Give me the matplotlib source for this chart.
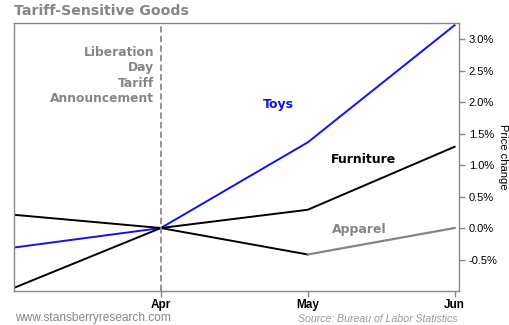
import matplotlib
matplotlib.use("Agg")
import matplotlib.pyplot as plt
from matplotlib.ticker import FuncFormatter, FixedLocator

# Month-over-month price change (%) by category
months = ["Mar", "Apr", "May", "Jun"]
toys = [-0.31, 0.0, 1.36, 3.22]
furniture = [-0.95, 0.0, 0.29, 1.29]
apparel = [0.21, 0.0, -0.42, 0.0]
yticks = [-0.5, 0.0, 0.5, 1.0, 1.5, 2.0, 2.5, 3.0]
xtick_months = ["Apr", "May", "Jun"]

GRAY = "#858585"
sans = ["Liberation Sans", "DejaVu Sans"]
verd = ["DejaVu Sans"]

fig = plt.figure(figsize=(5.1, 3.25), dpi=100)
ax = fig.add_axes([14 / 510, 34 / 325, 445 / 510, 268.3 / 325])

x = list(range(len(months)))
ax.plot(x, toys, color="#1010f0", lw=1.4)
ax.plot(x, furniture, color="black", lw=1.4)
ax.plot(x[:3], apparel[:3], color="black", lw=1.4)
ax.plot(x[2:], apparel[2:], color=GRAY, lw=1.6)

ax.axvline(months.index("Apr"), color="#8a8a8a", lw=1.3, ls=(0, (3.5, 1.8)))

ax.set_xlim(0, 3.03)
ax.set_ylim(-1.0, 3.26)

ax.xaxis.set_major_locator(FixedLocator([months.index(m) for m in xtick_months]))
ax.set_xticklabels(xtick_months, fontfamily=sans, fontweight="bold", fontsize=8.5)
ax.yaxis.tick_right()
ax.yaxis.set_major_locator(FixedLocator(yticks))
ax.yaxis.set_major_formatter(FuncFormatter(lambda v, p: f"{v:.1f}%"))
for lab in ax.get_yticklabels():
    lab.set_fontfamily(sans)
    lab.set_fontsize(8)
ax.tick_params(axis="both", colors="#888888", length=4, width=1, labelcolor="black")
ax.tick_params(axis="y", pad=3)
ax.tick_params(axis="x", pad=1.5)
for s in ax.spines.values():
    s.set_color("#888888")
    s.set_linewidth(1)

fig.text(503 / 510, 1 - 157 / 325, "Price change", rotation=270, fontfamily=sans,
         fontsize=8, color="black", ha="center", va="center")

# Series labels
ax.text(1.80, 1.96, "Toys", color="#1010f0", fontfamily=verd,
        fontweight="bold", fontsize=9, ha="center", va="center")
ax.text(2.16, 1.09, "Furniture", color="black", fontfamily=verd,
        fontweight="bold", fontsize=9, ha="left", va="center")
ax.text(2.35, -0.02, "Apparel", color=GRAY, fontfamily=verd,
        fontweight="bold", fontsize=9, ha="center", va="center")

# Event annotation
ax.text(0.955, 2.42, "Liberation\nDay\nTariff\nAnnouncement", color=GRAY,
        fontfamily=verd, fontweight="bold", fontsize=8.8, ha="right",
        va="center", linespacing=1.24)

fig.text(14 / 510, 1 - 11 / 325, "Tariff-Sensitive Goods", color=GRAY,
         fontfamily=verd, fontweight="bold", fontsize=10.2, ha="left", va="center")
fig.text(15 / 510, 1 - 318 / 325, "www.stansberryresearch.com", color=GRAY,
         fontfamily=sans, fontsize=8.6, ha="left", va="center")
fig.text(458 / 510, 1 - 319 / 325, "Source: Bureau of Labor Statistics", color="#999999",
         fontfamily=sans, fontstyle="italic", fontsize=7.6, ha="right", va="center")

fig.savefig("out.png", dpi=100)
